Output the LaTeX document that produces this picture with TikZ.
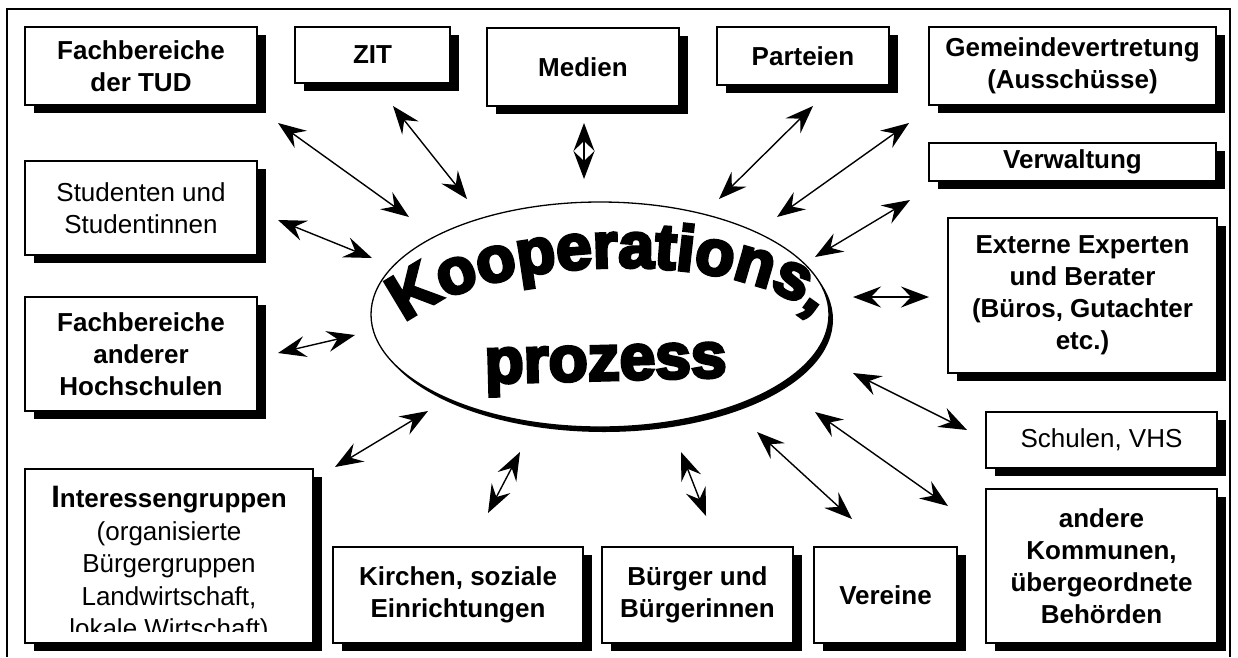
\documentclass[tikz,border=0pt]{standalone}
\usepackage{fontspec}
\setmainfont{Liberation Sans}
\newfontfamily\wordart[FakeBold=5]{Liberation Sans Bold}
\usetikzlibrary{shapes.geometric,shadows,arrows.meta,decorations.text}

\begin{document}
\begin{tikzpicture}[x=1pt, y=-1pt,
    every node/.style={align=center, font=\fontsize{26}{32}\selectfont\bfseries},
    box/.style={draw, line width=1.3pt, fill=white, inner sep=2pt,
        drop shadow={shadow xshift=9pt, shadow yshift=-8pt, opacity=1, fill=black}},
    light/.style={font=\fontsize{26}{32}\selectfont},
    link/.style={{Stealth[length=28pt, width=21pt, inset=10pt]}-{Stealth[length=28pt, width=21pt, inset=10pt]}, line width=1.4pt}]
\useasboundingbox (0,0) rectangle (1238,657);

% frame
\draw[line width=1.5pt] (7,657) -- (7,9) -- (1230,9) -- (1230,657);

% top row
\node[box, minimum width=232pt, minimum height=78pt] (tud) at (141,66) {Fachbereiche\\der TUD};
\node[box, minimum width=155pt, minimum height=56pt] (zit) at (372.5,55) {ZIT};
\node[box, minimum width=192pt, minimum height=78pt] (med) at (583,67) {Medien};
\node[box, minimum width=172pt, minimum height=58pt] (par) at (803,56) {Parteien};
\node[box, minimum width=287pt, minimum height=78pt] (gem) at (1072.5,66) {Gemeindevertretung\\(Ausschüsse)};

% right column
\node[box, minimum width=287pt, minimum height=38pt] (ver) at (1072.5,162) {Verwaltung};
\node[box, minimum width=269pt, minimum height=155pt] (ext) at (1082.5,295.5) {Externe Experten\\und Berater\\(Büros, Gutachter\\etc.)};
\node[box, light, minimum width=231pt, minimum height=56pt] (sch) at (1101.5,440) {Schulen, VHS};
\node[box, minimum width=231pt, minimum height=154pt] (kom) at (1101.5,566) {andere\\Kommunen,\\übergeordnete\\Behörden};

% bottom row
\node[box, minimum width=143pt, minimum height=96pt] (vrn) at (885.5,595) {Vereine};
\node[box, minimum width=191pt, minimum height=96pt] (bue) at (697.5,595) {Bürger und\\Bürgerinnen};
\node[box, minimum width=250pt, minimum height=96pt] (kir) at (458,595) {Kirchen, soziale\\Einrichtungen};

% left column
\node[box, minimum width=288pt, minimum height=174pt] (igr) at (169,556) {};
\node[anchor=north, inner sep=0pt, font=\fontsize{26}{32.5}\selectfont] (igrtxt) at (169,486)
    {\textbf{{\fontsize{31}{32.5}\selectfont I}nteressengruppen}\\(organisierte\\Bürgergruppen\\Landwirtschaft,\\lokale Wirtschaft)};
\fill[white] (25.7,632) rectangle (312.3,642.3);
\node[box, minimum width=232pt, minimum height=114pt] (fba) at (141,354) {Fachbereiche\\anderer\\Hochschulen};
\node[box, light, minimum width=232pt, minimum height=94pt] (stu) at (141,208) {Studenten und\\Studentinnen};

% centre
\node[draw, ellipse, line width=1.3pt, fill=white, inner sep=0pt, minimum width=458pt, minimum height=225pt,
    drop shadow={shadow xshift=4pt, shadow yshift=-5pt, opacity=1, fill=black}] (koop) at (600,314.5) {};
\path[decorate, decoration={text along path, text={|\wordart\fontsize{64}{64}\selectfont|Kooperations,}, text align=center}]
    (400,328) .. controls (475,252) and (745,245) .. (820,320);
\node[font=\wordart\fontsize{64}{64}\selectfont, anchor=base, rotate=1.5, inner sep=0pt] (proz) at (606,380) {prozess};

% arrows
\foreach \n/\ox/\oy/\ix/\iy in {tud/278/123/409/217, zit/393/106/467/199, med/584/123/584/179,
    par/813/106/719/199, gem/909/123/777/217, ver/910/200/815/257, ext/929/297/853/297,
    sch/967/430/853/373, kom/948/506/815/412, vrn/852/519/757/432, bue/706/516/681/452,
    kir/488/513/520/452, igr/335/467/428/411, fba/278/353/355/335, stu/278/220/372/258}
{
    \coordinate (\n-out) at (\ox,\oy);
    \coordinate (\n-in) at (\ix,\iy);
    \draw[link] (\n-out) -- (\n-in);
}
\end{tikzpicture}
\end{document}
